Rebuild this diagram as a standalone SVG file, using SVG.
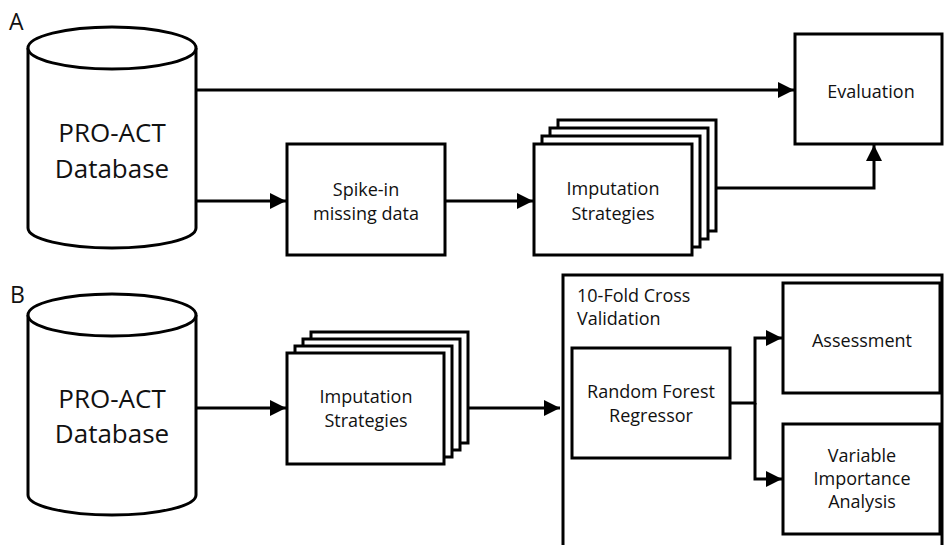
<svg xmlns="http://www.w3.org/2000/svg" width="944" height="545" viewBox="0 0 944 545">
<defs>
<style>
.box{fill:#fff;stroke:#000;stroke-width:3}
.cyl{fill:#fff;stroke:#000;stroke-width:3}
.con{fill:none;stroke:#000;stroke-width:3}
.big{font-family:"Open Sans","Liberation Sans",sans-serif;font-size:26px;fill:#111;text-anchor:middle}
.sm{font-family:"Open Sans","Liberation Sans",sans-serif;font-size:18px;fill:#111;text-anchor:middle}
.lbl{font-family:"Open Sans","Liberation Sans",sans-serif;font-size:23px;fill:#111}
</style>
<marker id="ah" viewBox="0 0 10 10" refX="10" refY="5" markerUnits="userSpaceOnUse" markerWidth="16" markerHeight="17" orient="auto">
<path d="M0,0 L10,5 L0,10 z" fill="#000"/>
</marker>
</defs>
<rect width="944" height="545" fill="#fff"/>

<text class="lbl" x="9" y="30">A</text>
<text class="lbl" x="10" y="303">B</text>

<g id="db-a">
<path class="cyl" d="M28,48 L28,228 A84,20 0 0 0 196,228 L196,48"/>
<ellipse class="cyl" cx="112" cy="48" rx="84" ry="21"/>
<text class="big" x="112" y="142">PRO-ACT</text>
<text class="big" x="112" y="178">Database</text>
</g>

<g id="evaluation">
<rect class="box" x="795" y="34" width="147" height="110"/>
<text class="sm" x="871" y="98">Evaluation</text>
</g>

<g id="spike">
<rect class="box" x="287" y="144" width="158" height="111"/>
<text class="sm" x="366" y="196">Spike-in</text>
<text class="sm" x="366" y="220">missing data</text>
</g>

<g id="imp-a">
<rect class="box" x="558" y="120" width="158" height="111"/>
<rect class="box" x="550" y="128" width="158" height="111"/>
<rect class="box" x="542" y="136" width="158" height="111"/>
<rect class="box" x="534" y="144" width="158" height="111"/>
<text class="sm" x="613" y="195">Imputation</text>
<text class="sm" x="613" y="220">Strategies</text>
</g>

<g id="db-b">
<path class="cyl" d="M28,315 L28,495 A84,20 0 0 0 196,495 L196,315"/>
<ellipse class="cyl" cx="112" cy="315" rx="84" ry="21"/>
<text class="big" x="112" y="408">PRO-ACT</text>
<text class="big" x="112" y="443">Database</text>
</g>

<g id="imp-b">
<rect class="box" x="311" y="332" width="157" height="111"/>
<rect class="box" x="303" y="339" width="157" height="111"/>
<rect class="box" x="295" y="346" width="157" height="111"/>
<rect class="box" x="287" y="353" width="157" height="111"/>
<text class="sm" x="366" y="403">Imputation</text>
<text class="sm" x="366" y="427">Strategies</text>
</g>

<g id="cv">
<rect class="box" x="563" y="275" width="379" height="290"/>
<text class="sm" x="577" y="302" style="text-anchor:start">10-Fold Cross</text>
<text class="sm" x="577" y="325" style="text-anchor:start">Validation</text>
</g>

<g id="rf">
<rect class="box" x="572" y="348" width="158" height="110"/>
<text class="sm" x="651" y="398">Random Forest</text>
<text class="sm" x="651" y="422">Regressor</text>
</g>

<g id="assessment">
<rect class="box" x="783" y="283" width="157" height="110"/>
<text class="sm" x="862" y="347">Assessment</text>
</g>

<g id="via">
<rect class="box" x="783" y="424" width="157" height="110"/>
<text class="sm" x="862" y="462">Variable</text>
<text class="sm" x="862" y="485">Importance</text>
<text class="sm" x="862" y="508">Analysis</text>
</g>

<g id="connectors">
<path class="con" d="M196,90 H794" marker-end="url(#ah)"/>
<path class="con" d="M196,201 H286" marker-end="url(#ah)"/>
<path class="con" d="M445,201 H533" marker-end="url(#ah)"/>
<path class="con" d="M716,188 H874 V145" marker-end="url(#ah)"/>
<path class="con" d="M196,408 H286" marker-end="url(#ah)"/>
<path class="con" d="M468,408 H560" marker-end="url(#ah)"/>
<path class="con" d="M730,403 H755 V338 H782" marker-end="url(#ah)"/>
<path class="con" d="M755,403 V479 H782" marker-end="url(#ah)"/>
</g>
</svg>
